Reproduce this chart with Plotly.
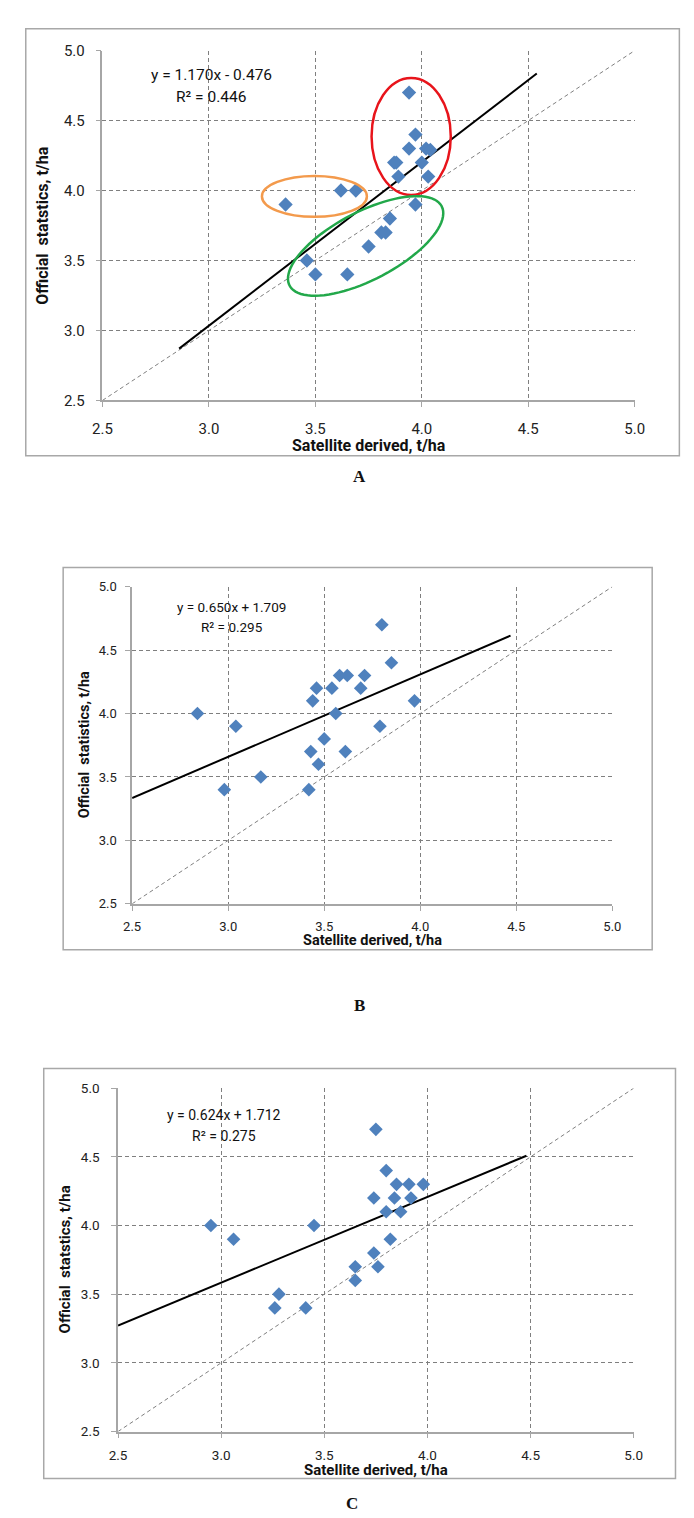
import numpy as np
import plotly.graph_objects as go

W, H = 694, 1518

# --- data ---
a_x = [3.36, 3.62, 3.69, 3.94, 3.97, 3.94, 4.02, 4.04, 3.87, 3.88, 4.00,
       3.89, 4.03, 3.97, 3.85, 3.81, 3.83, 3.75, 3.46, 3.50, 3.65]
a_y = [3.90, 4.00, 4.00, 4.70, 4.40, 4.30, 4.30, 4.29, 4.20, 4.20, 4.20,
       4.10, 4.10, 3.90, 3.80, 3.70, 3.70, 3.60, 3.50, 3.40, 3.40]

b_x = [2.84, 3.04, 2.98, 3.17, 3.42, 3.43, 3.47, 3.50, 3.44, 3.46, 3.54,
       3.58, 3.62, 3.71, 3.69, 3.56, 3.61, 3.79, 3.80, 3.85, 3.97]
b_y = [4.00, 3.90, 3.40, 3.50, 3.40, 3.70, 3.60, 3.80, 4.10, 4.20, 4.20,
       4.30, 4.30, 4.30, 4.20, 4.00, 3.70, 3.90, 4.70, 4.40, 4.10]

c_x = [2.95, 3.06, 3.26, 3.28, 3.41, 3.45, 3.65, 3.65, 3.74, 3.76, 3.82,
       3.75, 3.80, 3.85, 3.91, 3.98, 3.74, 3.84, 3.92, 3.80, 3.87]
c_y = [4.00, 3.90, 3.40, 3.50, 3.40, 4.00, 3.70, 3.60, 3.80, 3.70, 3.90,
       4.70, 4.40, 4.30, 4.30, 4.30, 4.20, 4.20, 4.20, 4.10, 4.10]

# trendline coefficients and x-extent as shown on each panel
slopes = [1.170, 0.650, 0.624]
intercepts = [-0.476, 1.709, 1.712]
trend_x = [[2.86, 4.54], [2.5, 4.47], [2.5, 4.48]]
equations = ["y = 1.170x - 0.476", "y = 0.650x + 1.709", "y = 0.624x + 1.712"]
r2_labels = ["R² = 0.446", "R² = 0.295", "R² = 0.275"]
y_titles = ["Official  statstics, t/ha", "Official  statistics, t/ha",
            "Official  statstics, t/ha"]
x_title = "Satellite derived, t/ha"
panel_names = ["A", "B", "C"]

tick_vals = [2.5, 3.0, 3.5, 4.0, 4.5, 5.0]
tick_text = ["2.5", "3.0", "3.5", "4.0", "4.5", "5.0"]
identity = [2.5, 5.0]

# --- layout in page pixels: plot area, outer box, text anchors ---
panels = [
    dict(plot=(87, 34, 635, 388), box=(8, 12, 681, 444), tick=15, title=16,
         eq=(199, 59, 81), ytx=25, xt=434, label=(352, 465), msize=11,
         xs=9, ys=8),
    dict(plot=(117.5, 576.5, 612, 897.5), box=(46.5, 557, 653, 944), tick=13,
         title=14.5, eq=(220, 597, 617), ytx=68, xt=935, label=(352, 1000),
         msize=10.5, xs=5, ys=6),
    dict(plot=(103, 1084, 634, 1431.5), box=(26.5, 1064, 677, 1479), tick=13.5,
         title=15, eq=(212, 1111, 1132), ytx=48, xt=1470, label=(344, 1504),
         msize=10.5, xs=6, ys=9),
]

NARROW = "Liberation Sans Narrow, Arial Narrow, Roboto, sans-serif"
GRID = "#7f7f7f"
AXIS = "#a6a6a6"


def px(x):
    return x / W


def py(y):
    return 1 - y / H


def note(text, x, y, size, family=NARROW, angle=0):
    return dict(text=text, x=px(x), y=py(y), xref="paper", yref="paper",
                xanchor="center", yanchor="middle", showarrow=False,
                textangle=angle, font=dict(family=family, size=size, color="#111"))


fig = go.Figure()
shapes = []
annotations = []

series = [(a_x, a_y), (b_x, b_y), (c_x, c_y)]
for i, (p, (xs, ys)) in enumerate(zip(panels, series)):
    n = "" if i == 0 else str(i + 1)
    xa, ya = "x" + n, "y" + n
    x0, y0, x1, y1 = p["plot"]

    fig.add_trace(go.Scatter(
        x=identity, y=identity, mode="lines", xaxis=xa, yaxis=ya,
        line=dict(color="#7f7f7f", width=1, dash="4px,3px"), showlegend=False,
    ))
    tx = trend_x[i]
    fig.add_trace(go.Scatter(
        x=tx, y=[slopes[i] * v + intercepts[i] for v in tx], mode="lines",
        xaxis=xa, yaxis=ya, line=dict(color="black", width=2), showlegend=False,
    ))
    fig.add_trace(go.Scatter(
        x=xs, y=ys, mode="markers", xaxis=xa, yaxis=ya,
        marker=dict(symbol="diamond", size=p["msize"], color="#4F81BD",
                    line=dict(width=0)),
        showlegend=False,
    ))

    axis_common = dict(
        range=[2.5, 5.0], tickvals=tick_vals, ticktext=tick_text,
        showgrid=True, gridcolor=GRID, gridwidth=1, griddash="4px,3px",
        showline=True, linecolor=AXIS, linewidth=1.5, zeroline=False,
        ticks="outside", ticklen=5, tickcolor=AXIS, tickwidth=1,
        tickfont=dict(family=NARROW, size=p["tick"], color="#222"),
        fixedrange=True,
    )
    fig.update_layout(**{
        "xaxis" + n: dict(axis_common, domain=[px(x0), px(x1)], anchor=ya,
                          ticklabelstandoff=p["xs"]),
        "yaxis" + n: dict(axis_common, domain=[py(y1), py(y0)], anchor=xa,
                          ticklabelstandoff=p["ys"]),
    })

    bx0, by0, bx1, by1 = p["box"]
    shapes.append(dict(type="rect", xref="paper", yref="paper",
                       x0=px(bx0), y0=py(by1), x1=px(bx1), y1=py(by0),
                       line=dict(color="#a8a8a8", width=1.5)))

    ex, ey1, ey2 = p["eq"]
    annotations.append(note(equations[i], ex, ey1, p["tick"] + 0.5))
    annotations.append(note(r2_labels[i], ex, ey2, p["tick"] + 0.5))
    annotations.append(note("<b>" + x_title + "</b>", (x0 + x1) / 2, p["xt"],
                            p["title"]))
    annotations.append(note("<b>" + y_titles[i] + "</b>", p["ytx"],
                            (y0 + y1) / 2, p["title"], angle=-90))
    lx, ly = p["label"]
    annotations.append(note("<b>" + panel_names[i] + "</b>", lx, ly, 17,
                            family="Liberation Serif, serif"))

# --- highlight ellipses on panel A (page-pixel geometry -> data units) ---
ax0, ay0, ax1, ay1 = panels[0]["plot"]
ppx = (ax1 - ax0) / 2.5
ppy = (ay1 - ay0) / 2.5

shapes.append(dict(type="circle", xref="x", yref="y", x0=3.764, x1=4.136,
                   y0=3.968, y1=4.805, line=dict(color="#E8141B", width=2.5)))
shapes.append(dict(type="circle", xref="x", yref="y", x0=3.249, x1=3.742,
                   y0=3.812, y1=4.104, line=dict(color="#F39A4C", width=2.5)))

g_cx, g_cy, g_a, g_b, g_theta = 3.736, 3.604, 88.0, 34.5, np.radians(27)
t = np.linspace(0, 2 * np.pi, 90)
ox = g_a * np.cos(g_theta) * np.cos(t) - g_b * np.sin(g_theta) * np.sin(t)
oy = g_a * np.sin(g_theta) * np.cos(t) + g_b * np.cos(g_theta) * np.sin(t)
gx = g_cx + ox / ppx
gy = g_cy + oy / ppy
path = "M " + " L ".join(f"{u:.4f},{v:.4f}" for u, v in zip(gx, gy)) + " Z"
shapes.append(dict(type="path", xref="x", yref="y", path=path,
                   line=dict(color="#22A84A", width=2.5)))

fig.update_layout(
    width=W, height=H, margin=dict(l=0, r=0, t=0, b=0),
    paper_bgcolor="white", plot_bgcolor="white",
    shapes=shapes, annotations=annotations, showlegend=False,
)

fig.write_html("out.html")
